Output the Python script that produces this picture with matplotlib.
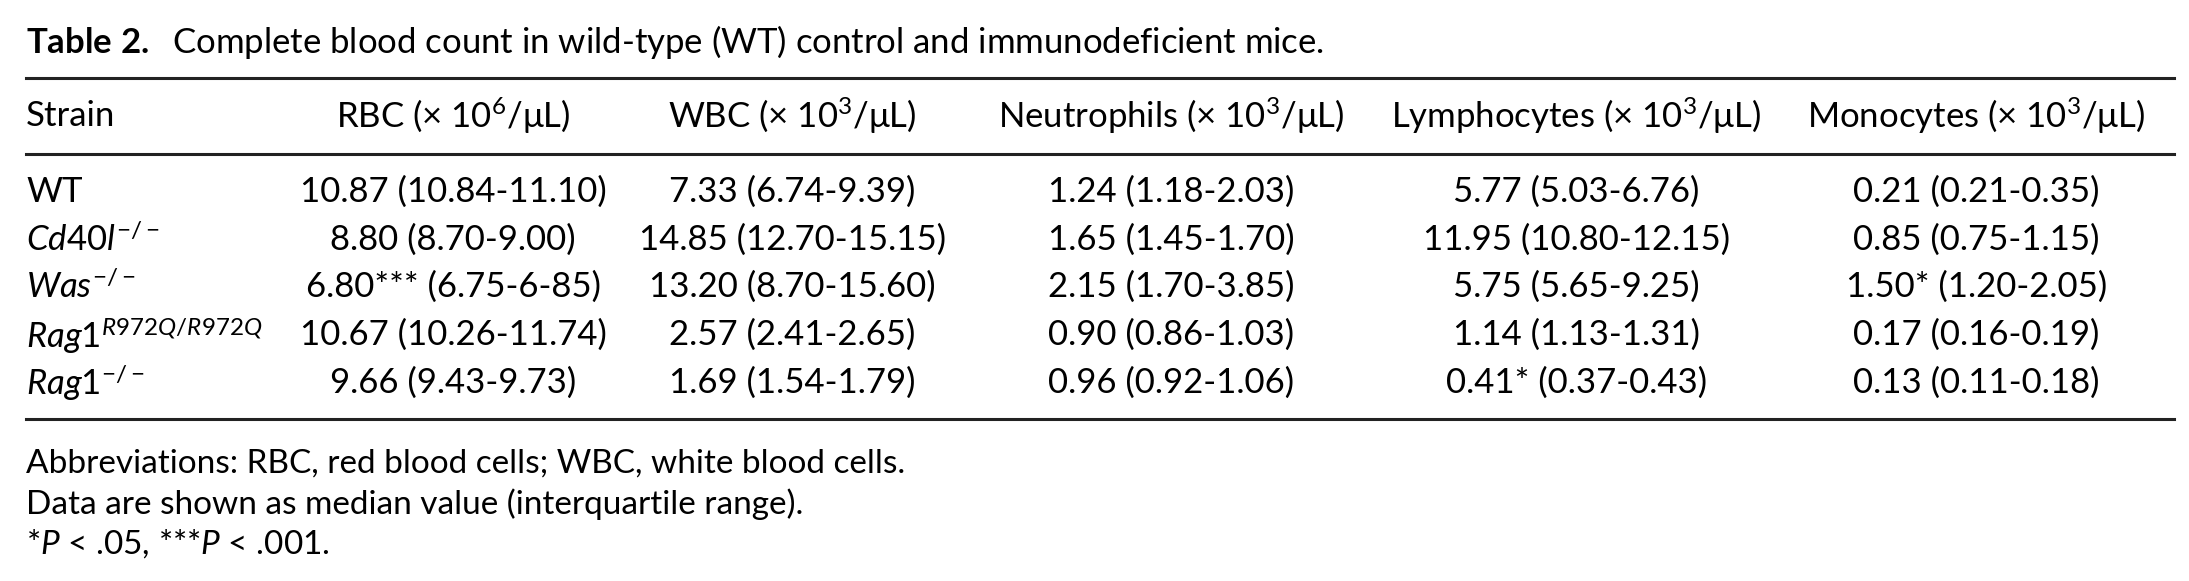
import matplotlib
matplotlib.use('Agg')
import matplotlib.pyplot as plt

plt.rcParams['font.family'] = ['Lato', 'DejaVu Sans']
plt.rcParams['mathtext.fontset'] = 'custom'
plt.rcParams['mathtext.rm'] = 'Lato'
plt.rcParams['mathtext.it'] = 'Lato:italic'
plt.rcParams['mathtext.bf'] = 'Lato:bold'

title = r'$\mathbf{Table\ 2.}$  Complete blood count in wild-type (WT) control and immunodeficient mice.'
strains = [r'WT', r'$\mathit{Cd40l}^{\mathrm{-/-}}$', r'$\mathit{Was}^{\mathrm{-/-}}$',
           r'$\mathit{Rag1}^{\mathit{R972Q/R972Q}}$', r'$\mathit{Rag1}^{\mathrm{-/-}}$']
headers = [r'RBC ($\times$ 10$^{6}$/μL)', r'WBC ($\times$ 10$^{3}$/μL)',
           r'Neutrophils ($\times$ 10$^{3}$/μL)', r'Lymphocytes ($\times$ 10$^{3}$/μL)',
           r'Monocytes ($\times$ 10$^{3}$/μL)']
rbc = ['10.87 (10.84-11.10)', '8.80 (8.70-9.00)', '6.80*** (6.75-6-85)', '10.67 (10.26-11.74)', '9.66 (9.43-9.73)']
wbc = ['7.33 (6.74-9.39)', '14.85 (12.70-15.15)', '13.20 (8.70-15.60)', '2.57 (2.41-2.65)', '1.69 (1.54-1.79)']
neut = ['1.24 (1.18-2.03)', '1.65 (1.45-1.70)', '2.15 (1.70-3.85)', '0.90 (0.86-1.03)', '0.96 (0.92-1.06)']
lymph = ['5.77 (5.03-6.76)', '11.95 (10.80-12.15)', '5.75 (5.65-9.25)', '1.14 (1.13-1.31)', '0.41* (0.37-0.43)']
mono = ['0.21 (0.21-0.35)', '0.85 (0.75-1.15)', '1.50* (1.20-2.05)', '0.17 (0.16-0.19)', '0.13 (0.11-0.18)']
footnotes = ['Abbreviations: RBC, red blood cells; WBC, white blood cells.',
             'Data are shown as median value (interquartile range).',
             r'*$\mathit{P}$ < .05, ***$\mathit{P}$ < .001.']

columns = [rbc, wbc, neut, lymph, mono]
col_x = [0.207, 0.362, 0.535, 0.72, 0.903]
row_y = [0.33, 0.413, 0.494, 0.577, 0.659]
left, right = 0.012, 0.993
fs = 25

fig = plt.figure(figsize=(21.89, 5.81), dpi=100)
ax = fig.add_axes([0, 0, 1, 1])
ax.set_xlim(0, 1)
ax.set_ylim(1, 0)
ax.axis('off')

ax.text(left, 0.072, title, fontsize=fs, va='center', ha='left')
for y in (0.135, 0.265, 0.721):
    ax.plot([left, right], [y, y], color='#222222', lw=2.2)

ax.text(left, 0.20, 'Strain', fontsize=fs, va='center', ha='left')
for x, h in zip(col_x, headers):
    ax.text(x, 0.20, h, fontsize=fs, va='center', ha='center')

for y, s in zip(row_y, strains):
    ax.text(left, y, s, fontsize=fs, va='center', ha='left')
for x, col in zip(col_x, columns):
    for y, v in zip(row_y, col):
        ax.text(x, y, v, fontsize=fs, va='center', ha='center')

for y, f in zip([0.797, 0.867, 0.935], footnotes):
    ax.text(left, y, f, fontsize=fs - 1, va='center', ha='left')

fig.savefig('out.png', dpi=100, facecolor='white')
